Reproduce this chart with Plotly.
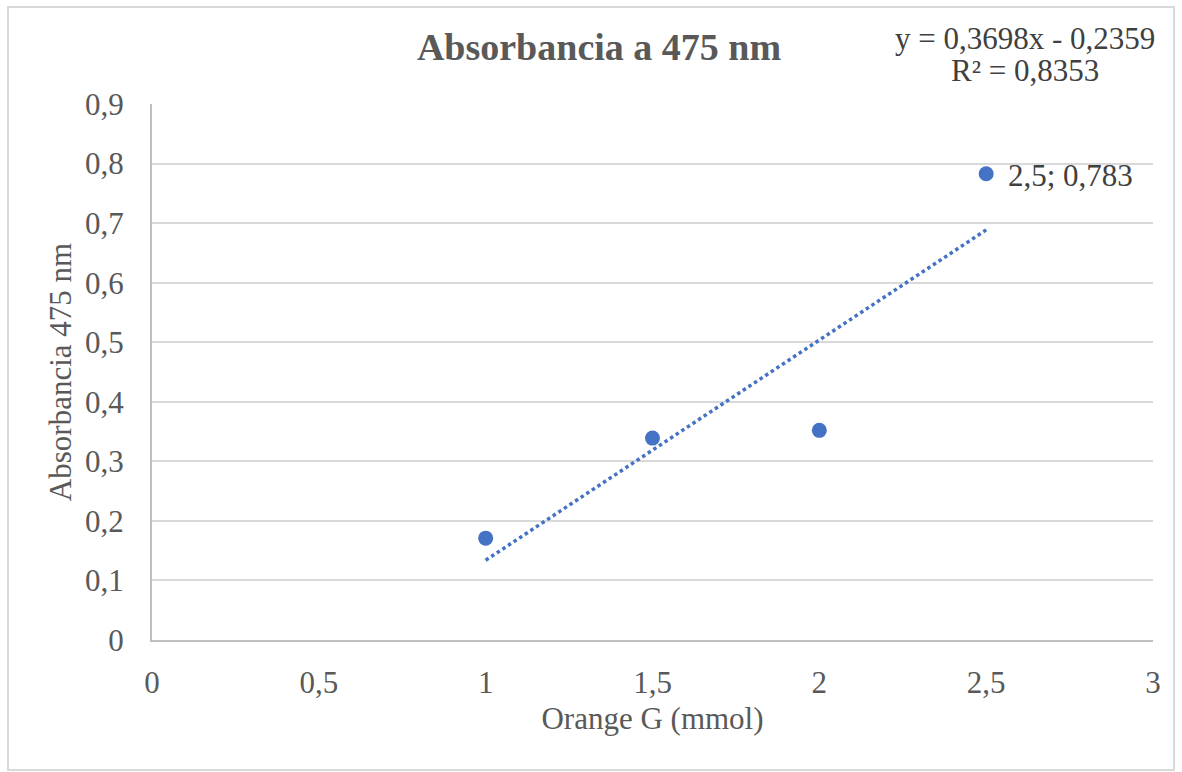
import numpy as np
import plotly.graph_objects as go

# Orange G concentration (mmol) vs absorbance at 475 nm
orange_g = [1.0, 1.5, 2.0, 2.5]
absorbance = [0.171, 0.339, 0.352, 0.783]

x_ticks = [0, 0.5, 1, 1.5, 2, 2.5, 3]
x_tick_text = ["0", "0,5", "1", "1,5", "2", "2,5", "3"]
y_ticks = [0, 0.1, 0.2, 0.3, 0.4, 0.5, 0.6, 0.7, 0.8, 0.9]
y_tick_text = ["0", "0,1", "0,2", "0,3", "0,4", "0,5", "0,6", "0,7", "0,8", "0,9"]

# Linear least-squares trend line over the measured range
slope, intercept = np.polyfit(orange_g, absorbance, 1)
pred = np.polyval([slope, intercept], orange_g)
ss_res = np.sum((np.array(absorbance) - pred) ** 2)
ss_tot = np.sum((np.array(absorbance) - np.mean(absorbance)) ** 2)
r2 = 1 - ss_res / ss_tot
trend_x = [min(orange_g), max(orange_g)]
trend_y = list(np.polyval([slope, intercept], trend_x))

def comma(v, d):
    return f"{v:.{d}f}".replace(".", ",")

sign = "-" if intercept < 0 else "+"
eq_line = f"y = {comma(slope, 4)}x {sign} {comma(abs(intercept), 4)}"
r2_line = f"R² = {comma(r2, 4)}"

BLUE = "#4472C4"
GREY_TXT = "#595959"
LABEL_TXT = "#404040"
FONT = "Liberation Serif"

# Plot-area pixel box, used to place paper-referenced items
L, T, R, B = 152, 104, 1153, 640
W, H = R - L, B - T
def px_x(p):
    return (p - L) / W
def px_y(p):
    return (B - p) / H

fig = go.Figure()
fig.add_trace(go.Scatter(
    x=trend_x, y=trend_y, mode="lines",
    line=dict(color=BLUE, width=3.5, dash="3.5px,3.2px"),
    hoverinfo="skip", showlegend=False,
))
fig.add_trace(go.Scatter(
    x=orange_g, y=absorbance, mode="markers",
    marker=dict(color=BLUE, size=15),
    showlegend=False,
))

# Data label on the last point
fig.add_annotation(
    x=orange_g[-1], y=absorbance[-1],
    text=f"{comma(orange_g[-1], 1)}; {comma(absorbance[-1], 3)}",
    showarrow=False, xanchor="left", xshift=20, yshift=-2,
    font=dict(family=FONT, size=31, color=LABEL_TXT),
)

# Trend line equation and R²
for txt, ypx in [(eq_line, 38), (r2_line, 70)]:
    fig.add_annotation(
        x=px_x(1025), y=px_y(ypx), xref="paper", yref="paper", text=txt,
        showarrow=False, xanchor="center", yanchor="middle",
        font=dict(family=FONT, size=31, color=LABEL_TXT),
    )

# Chart-area border
fig.add_shape(
    type="rect", xref="paper", yref="paper",
    x0=px_x(8), x1=px_x(1174), y0=px_y(770), y1=px_y(7),
    line=dict(color="#D9D9D9", width=2), fillcolor="rgba(0,0,0,0)", layer="below",
)

fig.update_layout(
    width=1182, height=772,
    margin=dict(l=L, r=1182 - R, t=T, b=772 - B),
    paper_bgcolor="white", plot_bgcolor="white",
    font=dict(family=FONT, color=GREY_TXT),
    title=dict(
        text="<b>Absorbancia a 475 nm</b>",
        x=px_x(599), xanchor="center", xref="paper",
        y=1 - 47 / 772, yanchor="middle",
        font=dict(family=FONT, size=38, color=GREY_TXT),
    ),
    xaxis=dict(
        range=[0, 3], tickvals=x_ticks, ticktext=x_tick_text,
        showgrid=False, zeroline=False,
        showline=True, linecolor="#BFBFBF", linewidth=2,
        tickfont=dict(family=FONT, size=31, color=GREY_TXT),
        ticks="", ticklabelstandoff=14,
        title=dict(text="Orange G (mmol)", standoff=8,
                   font=dict(family=FONT, size=31, color=GREY_TXT)),
    ),
    yaxis=dict(
        range=[0, 0.9], tickvals=y_ticks, ticktext=y_tick_text,
        showgrid=True, gridcolor="#D9D9D9", gridwidth=2,
        zeroline=False,
        showline=True, linecolor="#BFBFBF", linewidth=2,
        tickfont=dict(family=FONT, size=31, color=GREY_TXT),
        ticks="", ticklabelstandoff=20,
        title=dict(text="Absorbancia 475 nm", standoff=4,
                   font=dict(family=FONT, size=31, color=GREY_TXT)),
    ),
)

fig.write_html("out.html")
